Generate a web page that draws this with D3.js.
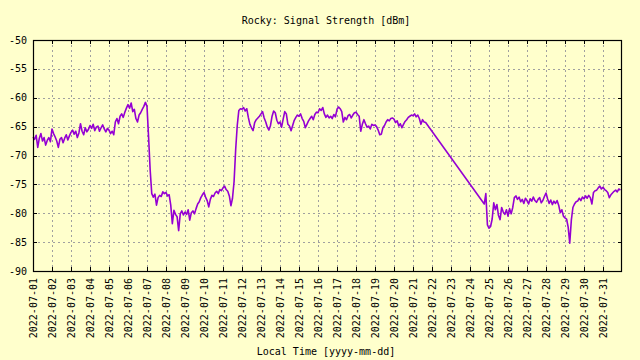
<!DOCTYPE html>
<html><head><meta charset="utf-8">
<script src="https://cdn.jsdelivr.net/npm/d3@7"></script>
<style>html,body{margin:0;padding:0;background:#ffffcc;}svg{display:block;}</style>
</head><body>
<svg id="c" width="640" height="360"></svg>
<script>
const title = "Rocky: Signal Strength [dBm]";
const xLabel = "Local Time [yyyy-mm-dd]";
const yTicks = [-90, -85, -80, -75, -70, -65, -60, -55, -50];
const xTickLabels = ["2022-07-01","2022-07-02","2022-07-03","2022-07-04","2022-07-05","2022-07-06","2022-07-07","2022-07-08","2022-07-09","2022-07-10","2022-07-11","2022-07-12","2022-07-13","2022-07-14","2022-07-15","2022-07-16","2022-07-17","2022-07-18","2022-07-19","2022-07-20","2022-07-21","2022-07-22","2022-07-23","2022-07-24","2022-07-25","2022-07-26","2022-07-27","2022-07-28","2022-07-29","2022-07-30","2022-07-31"];
const xDomain = ["2022-07-01T00:00:00Z", "2022-08-01T00:00:00Z"];
const stepHours = 2;
const seg1Start = "2022-07-01T00:00:00Z";
const seg1Values = [
-66.8,-67.2,-66.5,-68.6,-67.0,-66.2,-67.5,-66.9,-68.2,-67.4,-66.9,-67.6,
-65.4,-66.2,-66.8,-67.5,-68.6,-67.2,-66.9,-67.8,-67.0,-66.4,-67.3,-66.6,
-66.0,-65.6,-66.3,-65.8,-66.9,-66.1,-64.5,-65.8,-66.4,-65.2,-65.9,-65.5,
-64.8,-65.3,-64.6,-65.7,-65.1,-64.9,-65.8,-65.2,-64.7,-65.4,-65.9,-65.3,
-65.6,-66.2,-65.8,-66.4,-64.2,-63.6,-64.5,-63.2,-62.8,-63.4,-62.5,-61.8,
-61.2,-61.8,-60.9,-62.4,-62.0,-63.6,-64.2,-63.0,-62.6,-62.0,-61.5,-60.8,
-61.5,-66.8,-72.5,-76.6,-77.2,-76.7,-78.6,-77.3,-76.9,-77.1,-76.3,-76.6,
-76.4,-77.0,-76.8,-78.6,-81.8,-79.5,-80.2,-80.6,-83.0,-80.1,-79.6,-80.3,
-79.8,-80.2,-79.4,-81.2,-79.9,-79.6,-80.1,-79.2,-78.4,-78.0,-77.3,-76.8,
-76.4,-77.2,-77.8,-78.9,-77.6,-76.9,-77.1,-76.5,-76.2,-76.6,-75.9,-76.1,
-75.6,-75.3,-75.9,-76.2,-77.0,-78.7,-77.4,-74.5,-69.0,-64.8,-62.2,-61.9,
-62.0,-61.7,-62.3,-61.9,-63.4,-64.6,-65.2,-65.7,-64.3,-63.8,-63.5,-63.2,
-62.8,-62.4,-63.5,-64.2,-65.1,-65.6,-64.8,-63.2,-62.3,-62.6,-63.9,-64.5,
-64.2,-65.1,-63.7,-62.4,-62.8,-64.6,-64.9,-65.7,-64.8,-63.9,-63.4,-63.0,
-63.2,-62.8,-63.6,-64.1,-65.2,-64.6,-64.0,-63.6,-63.2,-63.8,-62.9,-62.5,
-62.6,-61.9,-62.2,-61.7,-62.8,-63.4,-63.0,-63.5,-63.2,-63.6,-62.9,-63.3,
-62.0,-61.6,-61.9,-62.4,-64.2,-63.4,-63.8,-63.1,-62.9,-63.5,-63.0,-62.6,
-62.5,-62.9,-63.2,-65.8,-64.6,-63.8,-64.5,-65.1,-64.9,-65.4,-64.6,-64.8,
-64.7,-65.0,-65.6,-66.4,-66.3,-65.2,-64.8,-64.2,-63.8,-64.0,-63.6,-63.5,
-63.7,-64.3,-64.0,-64.9,-64.5,-65.2,-64.6,-64.1,-63.8,-63.4,-63.2,-63.0,
-63.1,-62.8,-63.3,-63.0,-63.6,-64.6,-63.8,-64.2,-64.3
];
const seg2Start = "2022-07-24T18:00:00Z";
const seg2Values = [
-78.4,-76.6,-82.0,-82.6,-82.3,-81.0,-78.2,-79.4,-78.5,-80.4,-81.1,-79.0,
-79.8,-80.2,-79.4,-80.5,-79.2,-80.1,-79.0,-77.3,-77.0,-77.6,-77.2,-78.0,
-77.6,-78.3,-77.4,-77.8,-78.4,-77.5,-77.9,-77.2,-77.8,-78.1,-77.6,-77.3,
-78.2,-77.8,-77.1,-76.5,-77.5,-78.3,-77.7,-78.5,-77.9,-78.3,-77.8,-78.6,
-79.9,-79.4,-80.5,-80.8,-81.0,-82.4,-85.2,-81.2,-79.0,-78.4,-78.0,-77.9,
-77.4,-77.8,-77.2,-77.5,-77.0,-77.4,-76.9,-77.3,-78.4,-76.4,-76.1,-76.0,
-75.6,-75.3,-75.8,-75.5,-75.9,-76.1,-76.4,-77.3,-76.8,-76.5,-76.2,-76.0,
-76.3,-75.8,-76.0
];

const seg = (start, vals) => vals.map((v, i) => ({ t: new Date(Date.parse(start) + i * stepHours * 3600e3), v }));
const data = seg(seg1Start, seg1Values).concat(seg(seg2Start, seg2Values));

const L = 33, R = 622, T = 40, B = 271;
const x = d3.scaleUtc().domain(xDomain.map(d => new Date(d))).range([L, R]);
const y = d3.scaleLinear().domain([-90, -50]).range([B, T]);
const parse = d3.utcParse("%Y-%m-%d");
const xTicks = xTickLabels.map(parse);

const svg = d3.select("#c");
svg.append("rect").attr("width", 640).attr("height", 360).attr("fill", "#ffffcc");
const font = "'DejaVu Sans Mono', 'Liberation Mono', monospace";

// grid
const grid = svg.append("g").attr("stroke", "#a0a0a0").attr("stroke-width", 1).attr("stroke-dasharray", "2,3");
grid.selectAll(".gx").data(xTicks.slice(1)).join("line")
  .attr("x1", d => Math.round(x(d)) + 0.5).attr("x2", d => Math.round(x(d)) + 0.5)
  .attr("y1", T).attr("y2", B);
grid.selectAll(".gy").data(yTicks.slice(1, -1)).join("line")
  .attr("y1", d => Math.round(y(d)) + 0.5).attr("y2", d => Math.round(y(d)) + 0.5)
  .attr("x1", L).attr("x2", R);

// ticks (mirror, inward)
const tk = svg.append("g").attr("stroke", "#000").attr("stroke-width", 1);
xTicks.forEach(d => {
  const px = Math.round(x(d)) + 0.5;
  tk.append("line").attr("x1", px).attr("x2", px).attr("y1", B).attr("y2", B - 4);
  tk.append("line").attr("x1", px).attr("x2", px).attr("y1", T).attr("y2", T + 4);
});
yTicks.forEach(d => {
  const py = Math.round(y(d)) + 0.5;
  tk.append("line").attr("y1", py).attr("y2", py).attr("x1", L).attr("x2", L + 4);
  tk.append("line").attr("y1", py).attr("y2", py).attr("x1", R).attr("x2", R - 4);
});

// data line
const line = d3.line().x(d => x(d.t)).y(d => y(d.v));
svg.append("path").datum(data).attr("d", line)
  .attr("fill", "none").attr("stroke", "#9400d3").attr("stroke-width", 1.6).attr("stroke-linejoin", "round");

// border
svg.append("rect").attr("x", L + 0.5).attr("y", T + 0.5).attr("width", R - L - 1).attr("height", B - T)
  .attr("fill", "none").attr("stroke", "#000").attr("stroke-width", 1.2);

// y labels
svg.append("g").selectAll("text").data(yTicks).join("text")
  .attr("x", 27).attr("y", d => y(d)).attr("dy", "0.35em")
  .attr("text-anchor", "end").attr("font-family", font).attr("font-size", 10).attr("fill", "#000")
  .text(d => d3.format("d")(d).replace("−", "-"));

// x labels rotated
svg.append("g").selectAll("text").data(xTicks).join("text")
  .attr("transform", d => `translate(${x(d) + 3.5},278) rotate(-90)`)
  .attr("text-anchor", "end").attr("font-family", font).attr("font-size", 10).attr("fill", "#000")
  .text(d => d3.utcFormat("%Y-%m-%d")(d));

// title and axis label
svg.append("text").attr("x", 326).attr("y", 23.5).attr("text-anchor", "middle")
  .attr("font-family", font).attr("font-size", 10).attr("fill", "#000").text(title);
svg.append("text").attr("x", 326).attr("y", 354.5).attr("text-anchor", "middle")
  .attr("font-family", font).attr("font-size", 10).attr("fill", "#000").text(xLabel);
</script>
</body></html>
